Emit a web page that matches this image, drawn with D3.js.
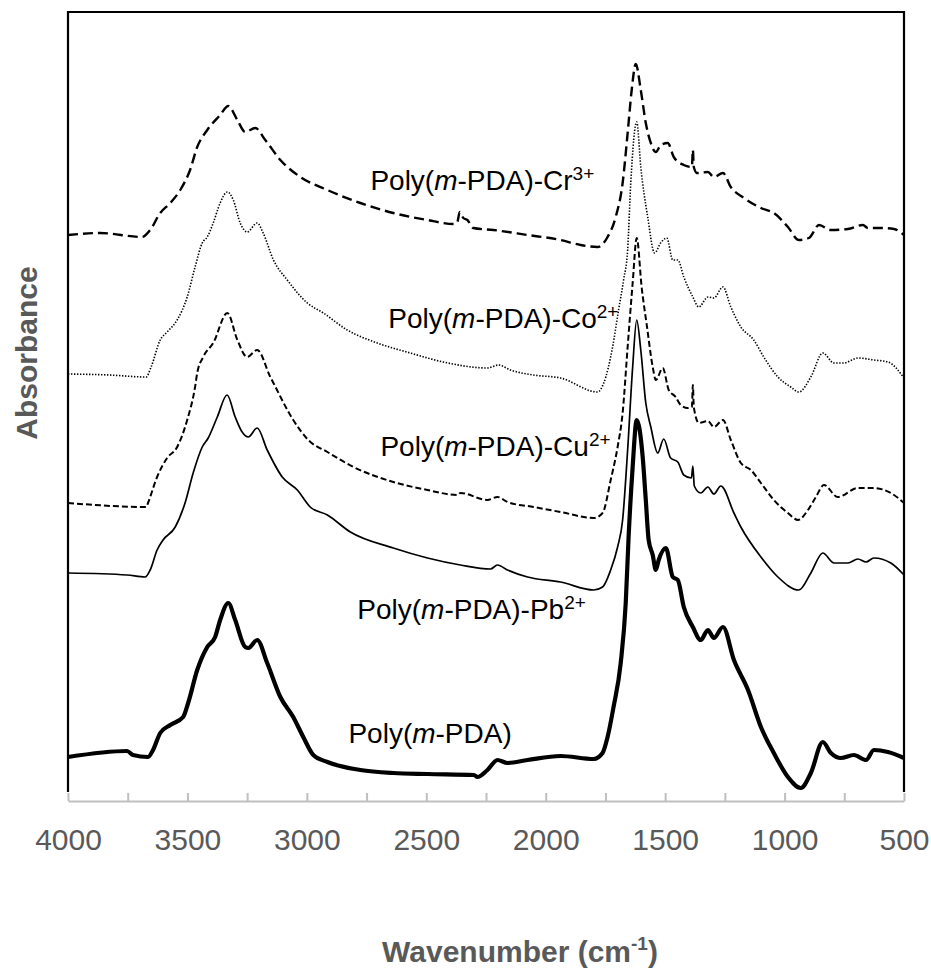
<!DOCTYPE html>
<html>
<head>
	<meta charset="UTF-8">
	<title>FTIR spectra</title>
	<script src="https://d3js.org/d3.v7.min.js"></script>
	<style type="text/css">
	body { margin:0; background:#ffffff; }
	text { font-family: "Liberation Sans", Arial, sans-serif; }
	</style>
</head>
<body>
<div id="myDiv"></div>
<script>

// x axis: minor ticks every 250 cm-1, labels every 500
var tickValues = [4000,3750,3500,3250,3000,2750,2500,2250,2000,1750,1500,1250,1000,750,500];
var tickLabels = [4000,3500,3000,2500,2000,1500,1000,500];

// Poly(m-PDA) - thick solid
var pdaWn  = [4000,3753,3728,3665,3644,3614,3572,3518,3497,3459,3417,3384,3363,3329,3300,3258,3245,3208,3166,3111,3057,3015,2973,2914,2776,2638,2495,2300,2286,2244,2202,2160,2076,1938,1799,1762,1741,1716,1686,1665,1653,1636,1619,1594,1581,1569,1552,1539,1527,1497,1468,1447,1422,1384,1351,1321,1296,1258,1212,1153,1099,1045,986,932,890,840,806,764,710,659,626,567,500];
var pdaAbs = [0.086,0.098,0.090,0.086,0.100,0.134,0.150,0.166,0.194,0.260,0.306,0.326,0.360,0.394,0.360,0.306,0.304,0.320,0.274,0.206,0.166,0.126,0.090,0.076,0.060,0.054,0.052,0.050,0.046,0.060,0.080,0.074,0.080,0.088,0.082,0.094,0.126,0.186,0.274,0.394,0.526,0.666,0.760,0.686,0.600,0.520,0.490,0.460,0.480,0.504,0.446,0.440,0.386,0.346,0.320,0.340,0.324,0.346,0.280,0.220,0.146,0.094,0.046,0.024,0.054,0.116,0.094,0.084,0.090,0.080,0.100,0.096,0.084];

// Poly(m-PDA)-Pb2+ - thin solid
var pbWn  = [4000,3753,3677,3656,3627,3602,3551,3510,3476,3438,3413,3375,3334,3300,3271,3245,3208,3166,3103,3040,2986,2914,2818,2638,2495,2357,2231,2202,2160,2076,1938,1799,1762,1728,1699,1678,1657,1636,1619,1602,1581,1560,1531,1506,1477,1447,1422,1390,1384,1378,1351,1321,1296,1267,1212,1183,1099,1028,940,890,840,793,735,693,659,626,555,500];
var pbAbs = [0.454,0.450,0.446,0.460,0.500,0.520,0.546,0.594,0.654,0.706,0.724,0.766,0.810,0.766,0.736,0.726,0.744,0.700,0.646,0.620,0.586,0.570,0.536,0.504,0.484,0.470,0.462,0.470,0.460,0.446,0.436,0.420,0.426,0.460,0.506,0.560,0.700,0.866,0.960,0.900,0.794,0.746,0.694,0.722,0.684,0.676,0.650,0.644,0.668,0.628,0.614,0.626,0.612,0.628,0.574,0.546,0.486,0.446,0.420,0.454,0.494,0.474,0.474,0.482,0.476,0.484,0.474,0.450];

// Poly(m-PDA)-Cu2+ - short dashes
var cuWn  = [4000,3672,3665,3627,3585,3543,3501,3468,3459,3434,3392,3333,3291,3250,3208,3153,3140,3057,2994,2914,2805,2638,2495,2370,2357,2244,2202,2160,2051,1938,1799,1762,1728,1699,1678,1657,1636,1619,1598,1577,1552,1539,1510,1485,1456,1435,1405,1388,1384,1380,1359,1321,1296,1258,1225,1183,1141,1099,1045,986,944,902,869,835,777,693,626,555,500];
var cuAbs = [0.594,0.586,0.594,0.646,0.684,0.706,0.760,0.826,0.854,0.886,0.914,0.974,0.920,0.886,0.900,0.846,0.834,0.760,0.720,0.696,0.666,0.636,0.620,0.610,0.614,0.600,0.606,0.596,0.586,0.576,0.564,0.574,0.640,0.706,0.774,0.906,1.034,1.124,1.024,0.950,0.866,0.840,0.864,0.820,0.806,0.790,0.784,0.786,0.830,0.786,0.754,0.758,0.746,0.760,0.720,0.674,0.660,0.634,0.600,0.574,0.560,0.580,0.606,0.630,0.606,0.624,0.624,0.614,0.594];

// Poly(m-PDA)-Co2+ - dotted
var coWn  = [4000,3828,3673,3652,3614,3585,3543,3501,3468,3438,3417,3392,3363,3333,3308,3279,3250,3208,3183,3140,3082,2998,2931,2831,2705,2567,2429,2244,2198,2148,2051,1938,1783,1757,1720,1695,1674,1657,1644,1619,1602,1573,1544,1519,1493,1468,1447,1422,1384,1359,1321,1296,1258,1225,1183,1129,1087,1028,974,940,890,840,793,752,693,626,567,500];
var coAbs = [0.852,0.850,0.846,0.866,0.920,0.936,0.960,1.006,1.066,1.114,1.126,1.154,1.194,1.216,1.200,1.154,1.136,1.154,1.134,1.080,1.040,0.994,0.974,0.940,0.914,0.894,0.876,0.864,0.870,0.860,0.850,0.844,0.816,0.834,0.906,0.980,1.040,1.100,1.234,1.356,1.266,1.166,1.094,1.114,1.124,1.080,1.080,1.046,1.006,0.986,1.006,1.004,1.026,0.986,0.946,0.920,0.886,0.846,0.826,0.816,0.846,0.894,0.874,0.874,0.884,0.880,0.876,0.844];

// Poly(m-PDA)-Cr3+ - long dashes
var crWn  = [4000,3866,3690,3656,3614,3572,3530,3489,3459,3417,3363,3329,3291,3258,3216,3174,3111,3027,2914,2776,2638,2495,2386,2370,2360,2345,2328,2303,2219,2076,1938,1854,1783,1741,1707,1678,1657,1640,1623,1602,1581,1560,1539,1518,1489,1464,1422,1388,1384,1380,1367,1321,1296,1258,1225,1170,1099,1045,986,940,898,856,806,735,672,651,596,542,500];
var crAbs = [1.130,1.134,1.126,1.140,1.174,1.194,1.220,1.260,1.306,1.340,1.370,1.388,1.360,1.336,1.344,1.320,1.280,1.246,1.220,1.194,1.174,1.160,1.152,1.156,1.176,1.164,1.160,1.144,1.140,1.130,1.120,1.110,1.106,1.126,1.166,1.234,1.334,1.420,1.472,1.420,1.354,1.314,1.296,1.310,1.314,1.286,1.270,1.266,1.300,1.266,1.254,1.256,1.246,1.254,1.226,1.204,1.184,1.174,1.146,1.120,1.124,1.150,1.140,1.142,1.150,1.144,1.144,1.142,1.130];

// series names (label is built as Poly(m-PDA)-ion)
var seriesIons = ["", "Pb", "Cu", "Co", "Cr"];
var seriesCharges = ["", "2+", "2+", "2+", "3+"];

// line styles and label anchors (in data units)
var styles = [
	{width:4.2, dash:null,      labelWn:2826, labelAbs:0.114},
	{width:1.7, dash:null,      labelWn:2789, labelAbs:0.362},
	{width:2.0, dash:"6,3",     labelWn:2692, labelAbs:0.688},
	{width:1.6, dash:"1.4,1.6", labelWn:2659, labelAbs:0.944},
	{width:2.4, dash:"10,5",    labelWn:2734, labelAbs:1.220}
];

var wnList = [pdaWn, pbWn, cuWn, coWn, crWn];
var absList = [pdaAbs, pbAbs, cuAbs, coAbs, crAbs];

var svgW = 931, svgH = 968;
var plotLeft = 68, plotRight = 904, plotTop = 12, plotBottom = 800;

var svg = d3.select("#myDiv").append("svg")
	.attr("width", svgW)
	.attr("height", svgH);

var xScale = d3.scaleLinear().domain([4000, 500]).range([plotLeft, plotRight]);
var yScale = d3.scaleLinear().domain([0, 1.576]).range([plotBottom, plotTop]);

// plot frame (left, top, right in black)
svg.append("path")
	.attr("d", "M" + plotLeft + "," + (plotBottom - 8) + "V" + plotTop + "H" + plotRight + "V" + (plotBottom - 8))
	.attr("fill", "none")
	.attr("stroke", "#000")
	.attr("stroke-width", 2.2);

// x axis - ticks point up into the plot
var xAxis = d3.axisBottom(xScale)
	.tickValues(tickValues)
	.tickSizeInner(-8)
	.tickSizeOuter(0)
	.tickPadding(28)
	.tickFormat(function(d){ return tickLabels.indexOf(d) >= 0 ? d : ""; });

var gx = svg.append("g")
	.attr("transform", "translate(0," + (plotBottom + 1) + ")")
	.call(xAxis);
gx.select(".domain").attr("stroke", "#bfbfbf").attr("stroke-width", 2.2);
gx.selectAll(".tick line").attr("stroke", "#bfbfbf").attr("stroke-width", 2);
gx.selectAll(".tick text")
	.attr("fill", "#595959")
	.attr("font-size", "30px")
	.attr("font-family", "'Liberation Sans', Arial, sans-serif");

// spectra - smooth through the read points
var line = d3.line()
	.curve(d3.curveMonotoneX)
	.x(function(d){ return xScale(d[0]); })
	.y(function(d){ return yScale(d[1]); });

for (var i = 0; i < wnList.length; i++) {
	var pts = wnList[i].map(function(w, j){ return [w, absList[i][j]]; });
	var st = styles[i];
	var p = svg.append("path")
		.datum(pts)
		.attr("d", line)
		.attr("fill", "none")
		.attr("stroke", "#000")
		.attr("stroke-width", st.width)
		.attr("stroke-linejoin", "round");
	if (st.dash) p.attr("stroke-dasharray", st.dash);

	// label
	var t = svg.append("text")
		.attr("x", xScale(st.labelWn))
		.attr("y", yScale(st.labelAbs))
		.attr("font-size", "28px")
		.attr("fill", "#000");
	t.append("tspan").text("Poly(");
	t.append("tspan").attr("font-style", "italic").text("m");
	t.append("tspan").text("-PDA)" + (seriesIons[i] ? "-" + seriesIons[i] : ""));
	if (seriesCharges[i]) {
		t.append("tspan").attr("font-size", "19px").attr("dy", -10).text(seriesCharges[i]);
	}
}

// axis titles
var xt = svg.append("text")
	.attr("x", 520)
	.attr("y", 962)
	.attr("text-anchor", "middle")
	.attr("font-size", "30px")
	.attr("font-weight", "bold")
	.attr("fill", "#595959");
xt.append("tspan").text("Wavenumber (cm");
xt.append("tspan").attr("font-size", "19px").attr("dy", -12).text("-1");
xt.append("tspan").attr("dy", 12).text(")");

svg.append("text")
	.attr("transform", "translate(37,353) rotate(-90)")
	.attr("text-anchor", "middle")
	.attr("font-size", "30px")
	.attr("font-weight", "bold")
	.attr("fill", "#595959")
	.text("Absorbance");

</script>
</body>
</html>
